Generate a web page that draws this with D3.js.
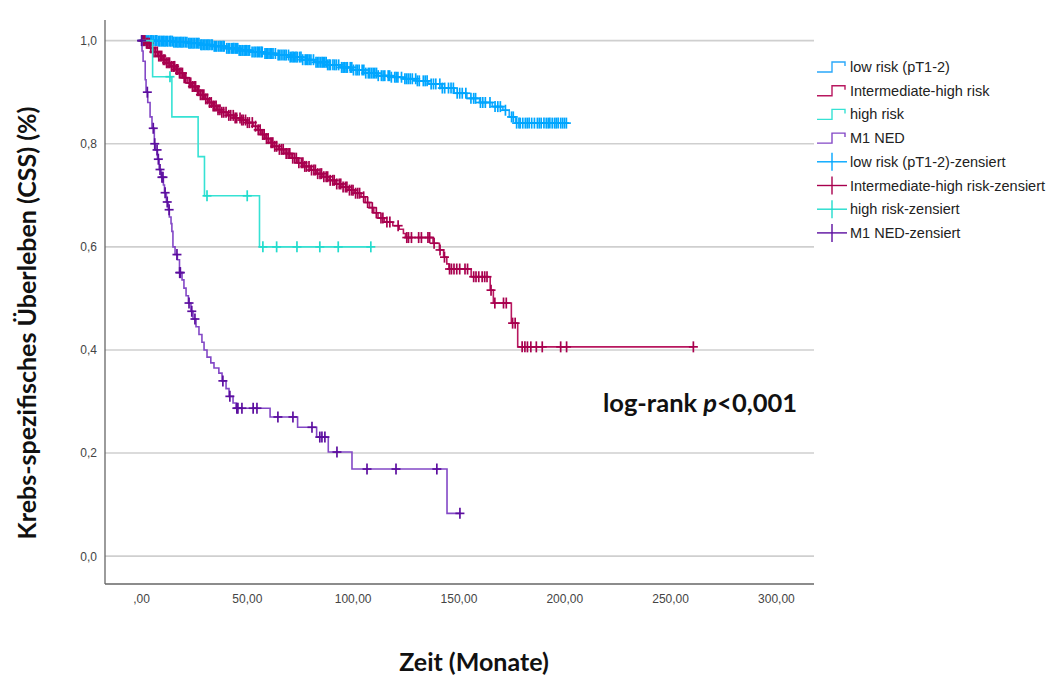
<!DOCTYPE html>
<html>
<head>
<meta charset="utf-8">
<script src="https://cdn.jsdelivr.net/npm/d3@7"></script>
<style>
  body { margin: 0; background: #fff; }
  svg { display: block; }
</style>
</head>
<body>
<svg id="chart" width="1059" height="677"></svg>
<script>
// step times (months) and survival after each step
const lowT = [0, 8, 15, 22, 28, 34, 40, 46, 52, 58, 64, 70, 76, 82, 88, 94, 100, 106, 112, 118, 124, 130, 136, 142, 148, 154, 160, 166, 171, 174, 177]
const lowS = [1, 0.999, 0.997, 0.995, 0.992, 0.989, 0.985, 0.981, 0.978, 0.975, 0.972, 0.968, 0.963, 0.958, 0.953, 0.948, 0.943, 0.937, 0.932, 0.929, 0.926, 0.922, 0.916, 0.908, 0.898, 0.888, 0.880, 0.872, 0.865, 0.852, 0.840]
const lowEnd = 201
const lowCens = [0.4, 0.8, 1.3, 1.9, 2.5, 3.1, 3.7, 4.4, 4.8, 5.2, 5.9, 6.7, 7.1, 7.5, 8.3, 8.9, 9.6, 10.2, 10.8, 11.4, 12.1, 12.7, 13.6, 14.1, 14.8, 15.5, 16.2, 16.9, 17.5, 18.2, 18.8, 19.4, 20.1, 20.9, 21.7, 22.6, 23.2, 23.9, 24.6, 25.3, 26.1, 26.8, 27.4, 28.3, 28.8, 29.5, 30.2, 30.9, 31.6, 32.2, 33.1, 33.7, 34.6, 35.2, 35.8, 36.7, 37.4, 38.1, 38.8, 39.3, 40.5, 41.2, 41.9, 42.8, 43.4, 43.9, 44.6, 45.1, 45.7, 46.4, 47.2, 47.9, 48.7, 49.3, 49.9, 50.6, 51.3, 52.5, 53.4, 54.1, 54.9, 55.5, 56.1, 56.8, 57.3, 58.6, 59.2, 59.8, 60.5, 61.2, 61.8, 62.4, 63.5, 64.8, 65.4, 66.2, 67.1, 67.9, 68.6, 69.7, 70.5, 71.3, 71.9, 72.5, 73.2, 73.8, 74.9, 75.6, 76.4, 77.6, 78.2, 78.8, 79.5, 80.3, 81.5, 82.7, 83.4, 84.1, 84.9, 85.6, 86.2, 86.8, 87.5, 88.2, 88.9, 89.5, 90.7, 91.5, 92.3, 93.4, 94.8, 95.5, 96.2, 96.9, 97.5, 98.9, 99.6, 100.4, 101.6, 102.3, 103.1, 104.5, 105.3, 106.2, 107.4, 108.1, 108.9, 109.7, 110.5, 111.3, 112.1, 113.6, 114.4, 115.2, 116.8, 117.5, 118.3, 119.9, 120.6, 121.4, 123.1, 124.7, 125.5, 126.3, 127.2, 128.2, 129.8, 130.6, 131.5, 133.4, 134.3, 135.2, 137.1, 138.2, 139.3, 141.2, 142.4, 143.5, 145.3, 146.5, 147.6, 149.4, 150.6, 151.8, 153.5, 155.9, 157.2, 158.1, 160.4, 161.5, 162.7, 164.9, 167.3, 168.6, 169.8, 172.2, 175.1, 175.9, 177.5, 178.6, 179.2, 180.4, 181.6, 182.5, 183.4, 184.6, 185.9, 187.3, 188.2, 189.1, 190.4, 191.5, 192.4, 193.2, 194.3, 195.4, 196.2, 197.1, 198.3, 199.2, 200.1, 201]

const midT = [0, 2, 4, 6, 8, 10, 12, 14, 16, 18, 20, 22, 24, 26, 28, 30, 32, 34, 36, 38, 41, 44, 47, 50, 53, 55, 57, 59, 61, 63, 65, 68, 71, 74, 77, 80, 83, 86, 89, 92, 95, 98, 101, 104, 106, 108, 110, 112, 115, 119, 122, 124, 125, 138, 141, 143, 144.5, 145.5, 156, 165, 166.5, 175, 178]
const midS = [1, 0.995, 0.986, 0.978, 0.970, 0.963, 0.957, 0.950, 0.944, 0.937, 0.928, 0.918, 0.911, 0.903, 0.895, 0.887, 0.880, 0.873, 0.866, 0.861, 0.855, 0.850, 0.846, 0.841, 0.834, 0.827, 0.818, 0.810, 0.802, 0.795, 0.789, 0.781, 0.772, 0.763, 0.756, 0.749, 0.742, 0.736, 0.729, 0.722, 0.716, 0.710, 0.704, 0.697, 0.686, 0.676, 0.666, 0.656, 0.648, 0.641, 0.634, 0.626, 0.618, 0.607, 0.594, 0.580, 0.567, 0.557, 0.542, 0.516, 0.491, 0.452, 0.406]
const midEnd = 261
const midCens = [0.5, 1.1, 1.8, 2.6, 3.2, 3.9, 4.6, 5.3, 6.1, 6.9, 7.7, 8.4, 9.1, 9.8, 10.6, 11.3, 12.1, 12.8, 13.5, 14.4, 15.2, 15.9, 16.7, 17.4, 18.2, 18.9, 19.6, 20.4, 21.2, 22.8, 23.5, 24.3, 25.1, 25.8, 26.7, 27.3, 28.1, 28.9, 29.7, 30.6, 31.4, 32.4, 33.2, 34.1, 34.8, 35.5, 36.4, 37.3, 38.2, 39.1, 40.2, 41.5, 42.4, 43.6, 44.5, 45.2, 46.8, 47.6, 48.3, 49.4, 50.3, 51.2, 52.6, 54.1, 55.4, 56.3, 57.5, 58.2, 59.3, 60.1, 61.5, 62.3, 63.2, 64.1, 65.4, 66.4, 67.2, 68.6, 69.5, 70.3, 71.7, 72.6, 73.4, 74.6, 75.8, 76.5, 77.4, 78.2, 79.4, 80.6, 81.7, 82.4, 83.5, 84.6, 85.3, 86.4, 87.5, 88.2, 89.4, 90.6, 91.3, 92.5, 93.7, 94.4, 95.5, 96.6, 97.3, 98.5, 99.5, 100.2, 101.4, 102.4, 103.3, 105.2, 107.1, 109.3, 111.2, 113.4, 114.3, 116.2, 117.6, 121.5, 125.6, 126.4, 127.8, 131.2, 132.5, 135.6, 136.4, 138.5, 141.3, 143.4, 145.8, 146.7, 147.9, 149.2, 150.6, 153.1, 154.3, 157.2, 158.3, 159.6, 161.2, 162.4, 163.5, 165.4, 167.2, 171.3, 172.6, 175.6, 176.8, 180.1, 181.4, 182.6, 184.2, 186.8, 189.6, 198.3, 201.1, 261]

const highT = [0, 5.5, 14.6, 27, 30, 56]
const highS = [1, 0.93, 0.852, 0.775, 0.699, 0.60]
const highEnd = 109
const highCens = [13.7, 31.2, 50.2, 57.6, 64.1, 73.7, 84.5, 93.2, 108.6]

const m1T = [0, 0.5, 1, 2, 2.4, 3.2, 4.3, 5.2, 6.3, 6.8, 7.8, 8.6, 9.5, 10.6, 11.1, 12, 12.9, 13.4, 14.2, 14.6, 15.1, 16.1, 17.2, 18.2, 19.4, 20.3, 21.3, 22.4, 23.6, 24.6, 26, 27.4, 28.8, 29.8, 31.2, 33, 34.5, 36.8, 38.3, 40.2, 41.6, 43.5, 44.9, 61, 74, 83, 88.5, 99.7, 144.6]
const m1S = [1, 0.98, 0.96, 0.924, 0.90, 0.88, 0.852, 0.83, 0.80, 0.788, 0.77, 0.75, 0.735, 0.72, 0.705, 0.687, 0.672, 0.658, 0.645, 0.63, 0.60, 0.585, 0.575, 0.55, 0.536, 0.52, 0.505, 0.491, 0.475, 0.46, 0.445, 0.43, 0.415, 0.40, 0.386, 0.375, 0.365, 0.355, 0.34, 0.325, 0.31, 0.297, 0.287, 0.27, 0.25, 0.231, 0.202, 0.169, 0.083]
const m1End = 151
const m1Cens = [0.3, 3, 5.8, 6.5, 7.6, 8.2, 9, 9.9, 10.4, 11.4, 12.4, 13.3, 17, 18.3, 18.6, 22.7, 24, 25.5, 38.7, 42, 45.3, 45.8, 47.7, 53, 54.8, 64.7, 71.8, 80.8, 84.5, 85.5, 86.9, 92.6, 106.8, 120.5, 139.8, 150.7]

const xTicks = [0, 50, 100, 150, 200, 250, 300]
const xTickLabels = [',00', '50,00', '100,00', '150,00', '200,00', '250,00', '300,00']
const yTicks = [0, 0.2, 0.4, 0.6, 0.8, 1.0]
const yTickLabels = ['0,0', '0,2', '0,4', '0,6', '0,8', '1,0']

const groups = [
  {name: 'low risk (pT1-2)', t: lowT, s: lowS, end: lowEnd, cens: lowCens, line: '#2AA8FA', mark: '#00A6FF'},
  {name: 'Intermediate-high risk', t: midT, s: midS, end: midEnd, cens: midCens, line: '#B8175F', mark: '#A8004E'},
  {name: 'high risk', t: highT, s: highS, end: highEnd, cens: highCens, line: '#36E2D4', mark: '#22DCCD'},
  {name: 'M1 NED', t: m1T, s: m1S, end: m1End, cens: m1Cens, line: '#8348C6', mark: '#5C0E9F'}
]

const svg = d3.select('#chart')
const x = d3.scaleLinear().domain([-17, 318]).range([105, 814])
const y = d3.scaleLinear().domain([-0.054, 1.04]).range([584, 20])

// gridlines
svg.append('g')
  .selectAll('line')
  .data(yTicks)
  .enter().append('line')
  .attr('x1', 105).attr('x2', 814)
  .attr('y1', d => y(d)).attr('y2', d => y(d))
  .attr('stroke', '#cfcfcf')
  .attr('stroke-width', 1.6)

// axes without tick marks
svg.append('g')
  .attr('transform', 'translate(0,584)')
  .call(d3.axisBottom(x).tickValues(xTicks).tickSize(0).tickPadding(10).tickFormat((d, i) => xTickLabels[i]))
  .call(g => g.select('.domain').attr('stroke', '#666').attr('stroke-width', 1.3).attr('d', 'M105,0H814'))
  .call(g => g.selectAll('text').attr('fill', '#444').style('font', '12px "Liberation Sans", Arial, sans-serif'))

svg.append('g')
  .attr('transform', 'translate(105,0)')
  .call(d3.axisLeft(y).tickValues(yTicks).tickSize(0).tickPadding(8).tickFormat((d, i) => yTickLabels[i]))
  .call(g => g.select('.domain').attr('stroke', '#666').attr('stroke-width', 1.3).attr('d', 'M0,20V584'))
  .call(g => g.selectAll('text').attr('fill', '#444').style('font', '12px "Liberation Sans", Arial, sans-serif'))

const stepLine = d3.line().x(d => x(d[0])).y(d => y(d[1])).curve(d3.curveStepAfter)

function survAt(g, t) {
  const i = d3.bisectRight(g.t, t) - 1
  return g.s[Math.max(0, i)]
}

function plus(sel, color, h, w) {
  sel.append('line').attr('x1', -w).attr('x2', w).attr('y1', 0).attr('y2', 0)
    .attr('stroke', color).attr('stroke-width', 1.7)
  sel.append('line').attr('x1', 0).attr('x2', 0).attr('y1', -h).attr('y2', h)
    .attr('stroke', color).attr('stroke-width', 1.7)
}

groups.forEach(g => {
  const pts = g.t.map((t, i) => [t, g.s[i]])
  pts.push([g.end, g.s[g.s.length - 1]])
  svg.append('path')
    .attr('d', stepLine(pts))
    .attr('fill', 'none')
    .attr('stroke', g.line)
    .attr('stroke-width', 1.6)

  svg.append('g')
    .selectAll('g')
    .data(g.cens)
    .enter().append('g')
    .attr('transform', c => 'translate(' + x(c) + ',' + y(survAt(g, c)) + ')')
    .each(function() { plus(d3.select(this), g.mark, 5.5, 4.5) })
})

// legend
const legend = svg.append('g').attr('transform', 'translate(817,0)')
const rowY = i => 67 + i * 23.7
groups.forEach((g, i) => {
  const yy = rowY(i)
  legend.append('path')
    .attr('d', `M0,${yy + 5}H15V${yy - 5}H28V${yy - 1}`)
    .attr('fill', 'none').attr('stroke', g.line).attr('stroke-width', 1.4)
  legend.append('text').attr('x', 33).attr('y', yy).attr('dy', '0.35em')
    .text(g.name).style('font', '14.5px "Liberation Sans", Arial, sans-serif').attr('fill', '#222')
})
groups.forEach((g, i) => {
  const yy = rowY(i + 4)
  legend.append('line').attr('x1', 0).attr('x2', 30).attr('y1', yy).attr('y2', yy)
    .attr('stroke', g.mark).attr('stroke-width', 1.4)
  legend.append('line').attr('x1', 15).attr('x2', 15).attr('y1', yy - 9).attr('y2', yy + 9)
    .attr('stroke', g.mark).attr('stroke-width', 1.4)
  legend.append('text').attr('x', 33).attr('y', yy).attr('dy', '0.35em')
    .text(g.name + '-zensiert').style('font', '14.5px "Liberation Sans", Arial, sans-serif').attr('fill', '#222')
})

// titles
svg.append('text')
  .attr('transform', 'translate(36,' + 323 + ') rotate(-90)')
  .style('text-anchor', 'middle')
  .style('font', 'bold 25px Lato, "Open Sans", sans-serif')
  .attr('fill', '#111')
  .text('Krebs-spezifisches Überleben (CSS) (%)')

svg.append('text')
  .attr('x', 474).attr('y', 671)
  .style('text-anchor', 'middle')
  .style('font', 'bold 25px Lato, "Open Sans", sans-serif')
  .attr('fill', '#111')
  .text('Zeit (Monate)')

const pText = svg.append('text')
  .attr('x', 603).attr('y', 412)
  .style('font', 'bold 25.5px Lato, "Open Sans", sans-serif')
  .attr('fill', '#111')
pText.append('tspan').text('log-rank ')
pText.append('tspan').style('font-style', 'italic').text('p')
pText.append('tspan').text('<0,001')
</script>
</body>
</html>
